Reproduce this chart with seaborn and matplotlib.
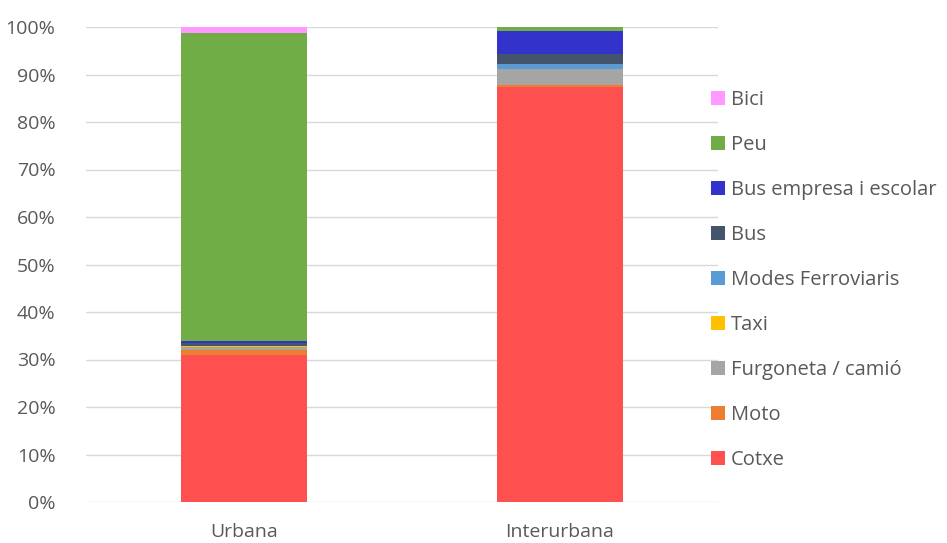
import matplotlib
matplotlib.use("Agg")
import matplotlib.pyplot as plt
import seaborn as sns
import numpy as np
import pandas as pd
from matplotlib.patches import Patch
from matplotlib.ticker import PercentFormatter

categories = ["Urbana", "Interurbana"]
modes = ["Cotxe", "Moto", "Furgoneta / camió", "Taxi", "Modes Ferroviaris",
         "Bus", "Bus empresa i escolar", "Peu", "Bici"]
cotxe = [30.9, 87.3]
moto = [1.0, 0.55]
furgoneta = [0.8, 3.3]
taxi = [0.05, 0.05]
ferroviaris = [0.1, 1.05]
bus = [0.7, 2.1]
bus_empresa = [0.3, 4.9]
peu = [64.85, 0.7]
bici = [1.3, 0.05]
colors = ["#FF5050", "#ED7D31", "#A5A5A5", "#FFC000", "#5B9BD5",
          "#44546A", "#3333CC", "#70AD47", "#FF99FF"]

series = [cotxe, moto, furgoneta, taxi, ferroviaris, bus, bus_empresa, peu, bici]

sns.set_theme(style="white")
plt.rcParams['font.family'] = ['Open Sans', 'DejaVu Sans']

fig = plt.figure(figsize=(9.47, 5.43), dpi=100)
ax = fig.add_axes([86/947, 1-502/543, (718-86)/947, (502-27)/543])

bottom = np.zeros(len(categories))
for name, vals, col in zip(modes, series, colors):
    df = pd.DataFrame({"cat": categories, "val": vals})
    sns.barplot(data=df, x="cat", y="val", color=col, bottom=bottom, width=0.4,
                ax=ax, saturation=1, linewidth=0, order=categories)
    bottom += np.array(vals)

ax.set_ylim(0, 100)
ax.set_yticks(np.arange(0, 101, 10))
ax.yaxis.set_major_formatter(PercentFormatter(decimals=0))
ax.grid(axis="y", color="#D9D9D9", linewidth=1)
ax.set_axisbelow(True)
for s in ax.spines.values():
    s.set_visible(False)
ax.set_xlabel("")
ax.set_ylabel("")
ax.tick_params(axis="both", length=0, labelsize=14, colors="#595959")
ax.tick_params(axis="y", pad=22)
ax.tick_params(axis="x", pad=15)

handles = [Patch(facecolor=c, edgecolor="none") for c in colors[::-1]]
fig.legend(handles, modes[::-1], loc="upper left", bbox_to_anchor=(711/947, 1-90/543),
           frameon=False, fontsize=14.5, labelcolor="#595959",
           handlelength=0.7, handleheight=0.7, handletextpad=0.3,
           labelspacing=1.24, borderaxespad=0, borderpad=0)

fig.savefig("out.png", dpi=100)
